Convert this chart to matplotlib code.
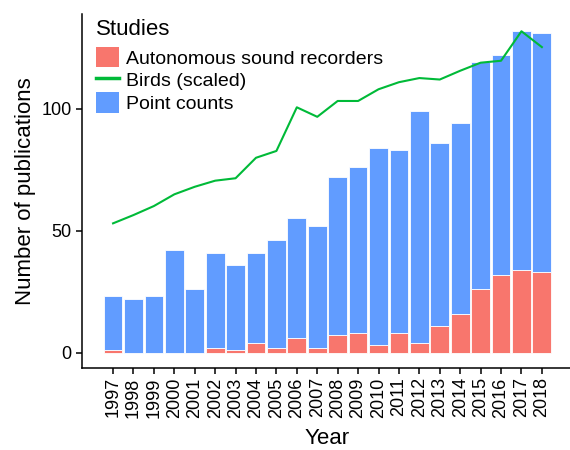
import numpy as np
import matplotlib
matplotlib.use("Agg")
import matplotlib.pyplot as plt
from matplotlib.patches import Patch
from matplotlib.lines import Line2D

plt.rcParams['font.family'] = ['Liberation Sans', 'DejaVu Sans']

# Publications per year
years = list(range(1997, 2019))
total_pubs = [23, 22, 23, 42, 26, 41, 36, 41, 46, 55, 52, 72, 76, 84, 83, 99, 86, 94, 119, 122, 132, 131]
recorder_pubs = [1, 0, 0, 0, 0, 2, 1, 4, 2, 6, 2, 7, 8, 3, 8, 4, 11, 16, 26, 32, 34, 33]
birds_scaled = [53.0, 56.4, 60.1, 64.9, 68.0, 70.5, 71.5, 79.9, 82.7, 100.6, 96.7, 103.2, 103.2,
                108.0, 110.9, 112.6, 112.0, 115.6, 118.9, 119.7, 131.8, 125.3]

point_counts = [t - r for t, r in zip(total_pubs, recorder_pubs)]

red = '#F8766D'
green = '#00BA38'
blue = '#619CFF'

fig = plt.figure(figsize=(5.7, 4.5), dpi=100)
ax = fig.add_axes([0.143, 0.183, 0.863, 0.786])

ax.bar(years, recorder_pubs, width=0.92, color=red, edgecolor='white', linewidth=0.6)
ax.bar(years, point_counts, bottom=recorder_pubs, width=0.92, color=blue,
       edgecolor='white', linewidth=0.6)
ax.plot(years, birds_scaled, color=green, linewidth=1.5)

ax.set_xlim(1995.455, 2019.545)
ax.set_ylim(-6.2, 138.9)
ax.set_xticks(years)
ax.set_xticklabels([str(y) for y in years], rotation=90)
ax.set_yticks([0, 50, 100])

for side in ['top', 'right']:
    ax.spines[side].set_visible(False)
for side in ['left', 'bottom']:
    ax.spines[side].set_linewidth(1.1)
ax.tick_params(axis='both', length=4.5, width=1.1, labelsize=13, colors='black', pad=2.5)

ax.set_xlabel('Year', fontsize=16, labelpad=7.5)
ax.set_ylabel('Number of publications', fontsize=16, labelpad=4)

handles = [Patch(facecolor=red, edgecolor='none'),
           Line2D([0], [0], color=green, linewidth=2.5),
           Patch(facecolor=blue, edgecolor='none')]
labels = ['Autonomous sound recorders', 'Birds (scaled)', 'Point counts']
leg = ax.legend(handles, labels, title='Studies', loc='upper left',
                bbox_to_anchor=(0.168, 0.958), bbox_transform=fig.transFigure,
                frameon=False, fontsize=14, title_fontsize=16, alignment='left',
                handlelength=1.2, handleheight=1.25, handletextpad=0.35,
                labelspacing=0.1, borderaxespad=0, borderpad=0)
leg._legend_box.sep = 5

fig.savefig('out.png', dpi=100)
